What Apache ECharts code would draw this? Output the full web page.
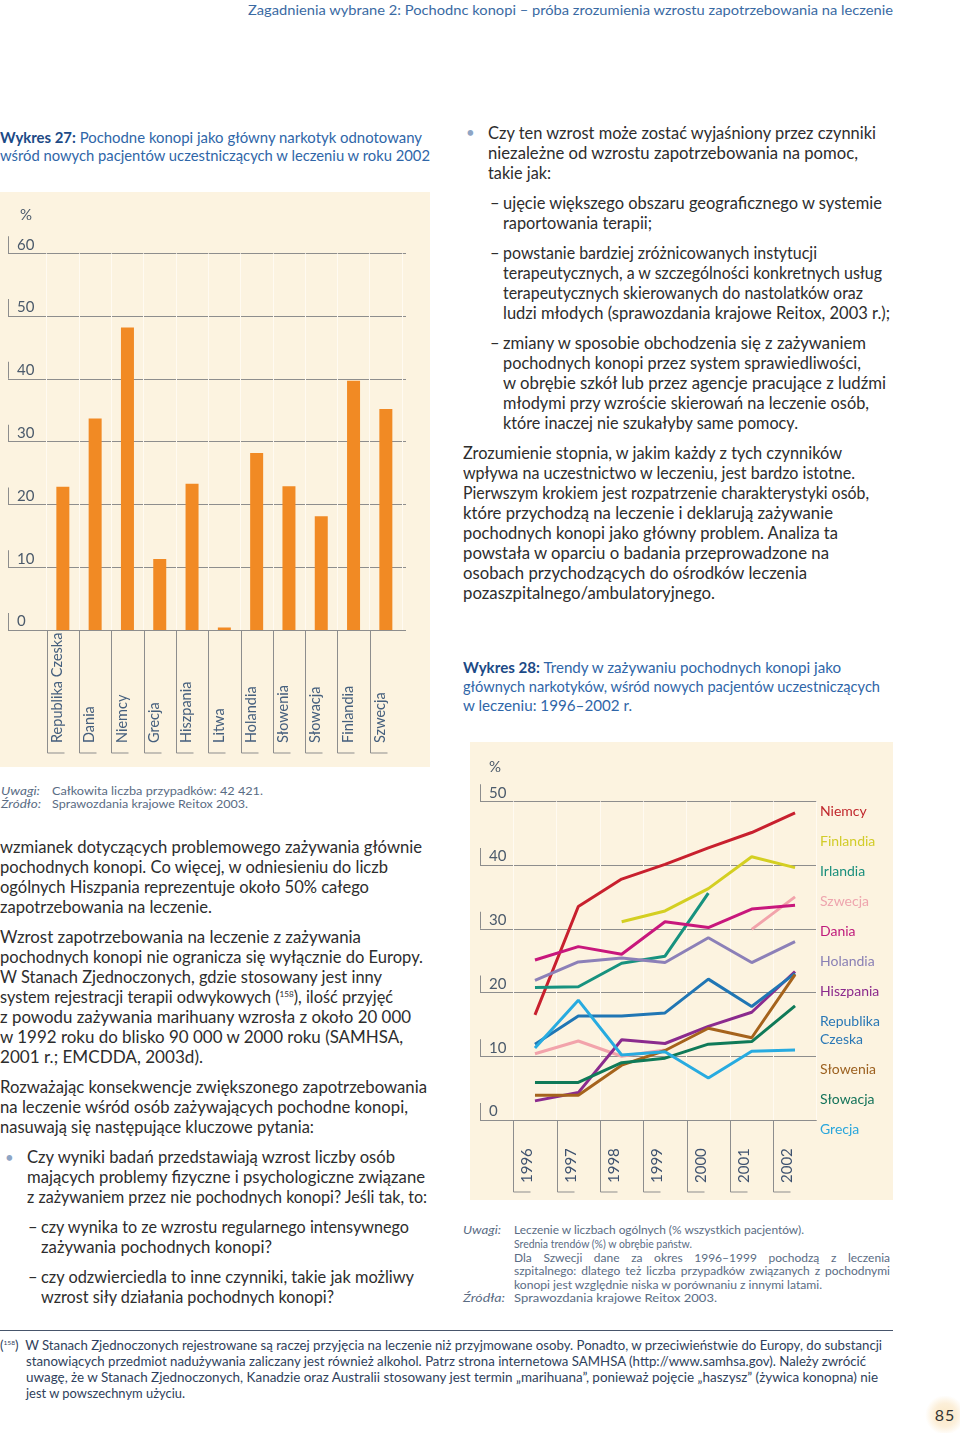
<!DOCTYPE html>
<html><head><meta charset="utf-8">
<script src="https://cdn.jsdelivr.net/npm/echarts/dist/echarts.min.js"></script>
<style>
html,body{margin:0;padding:0;background:#fff;}
body{width:960px;height:1433px;position:relative;overflow:hidden;font-family:Lato,"Noto Sans",sans-serif;}
.ln{position:absolute;white-space:nowrap;transform-origin:0 50%;}
.b{font-size:16.5px;line-height:20px;color:#2d2d2d;}
.t{font-size:15px;line-height:18px;color:#2f66a8;}
.t b{color:#1c4a86;font-weight:700;}
.n{font-size:12px;line-height:14px;color:#5a6c84;}
.n i{font-style:italic;}
.f{font-size:13px;line-height:16px;color:#2f3f5c;}
.h{font-size:14px;line-height:18px;color:#3a6aa3;}
sup{font-size:0.5em;vertical-align:0.7em;line-height:0;}
.bul{position:absolute;font-size:15px;line-height:20px;color:#8ea5c5;}
.dash{position:absolute;font-size:16.5px;line-height:20px;color:#2d2d2d;}
#c1{position:absolute;left:0;top:192px;width:430px;height:575px;}
#c2{position:absolute;left:470px;top:742px;width:423px;height:458px;}
#rule{position:absolute;left:0;top:1330px;width:893px;height:0;border-top:1.5px solid #47556b;}
#pg{position:absolute;left:923px;top:1396px;width:44px;height:38px;background:radial-gradient(circle at 50% 50%, #fbe8c6 0%, #fcefd9 40%, rgba(255,255,255,0) 68%);font-size:16px;line-height:38px;text-align:center;color:#333;letter-spacing:1px;}
</style>
</head><body>
<div id="c1"></div>
<div id="c2"></div>
<div id="rule"></div>
<div id="pg">85</div>
<script>
// ---------- Chart 27 data ----------
const countries27 = ['Republika Czeska','Dania','Niemcy','Grecja','Hiszpania','Litwa','Holandia','Słowenia','Słowacja','Finlandia','Szwecja'];
const share27 = [22.8, 33.7, 48.2, 11.3, 23.3, 0.4, 28.2, 22.9, 18.1, 39.7, 35.2];

// ---------- Chart 28 data ----------
const years28 = ['1996','1997','1998','1999','2000','2001','2002'];
const niemcy    = [16.5, 33.5, 37.8, 40.1, 42.7, 45.1, 48.2];
const finlandia = [null, null, 31.1, 32.8, 36.3, 41.3, 39.6];
const irlandia  = [20.8, 20.9, 24.6, 25.7, 35.6, null, null];
const szwecja   = [10.4, 12.4, 10.0, 11.0, null, 29.9, 35.0];
const dania     = [25.1, 27.2, 26.0, 31.1, 30.2, 33.1, 33.7];
const holandia  = [21.9, 24.8, 25.4, 24.7, 28.6, 24.7, 28.0];
const hiszpania = [3.0, 4.3, 12.6, 12.0, 14.7, 16.9, 23.3];
const czechy    = [11.9, 16.3, 16.3, 16.8, 22.1, 17.8, 23.0];
const slowenia  = [3.9, 3.9, 8.6, 10.9, 14.4, 12.9, 22.8];
const slowacja  = [5.9, 5.9, 9.0, 9.7, 11.9, 12.3, 17.9];
const grecja    = [11.3, 18.8, 10.2, 10.7, 6.6, 10.8, 11.0];

const names28 = ['Niemcy','Finlandia','Irlandia','Szwecja','Dania','Holandia','Hiszpania','Republika Czeska','Słowenia','Słowacja','Grecja'];
const values28 = [niemcy, finlandia, irlandia, szwecja, dania, holandia, hiszpania, czechy, slowenia, slowacja, grecja];
const colors28 = ['#c8202e','#d4cf22','#17927f','#f2a3ab','#c8177c','#8c80b8','#8b2b8e','#2076b4','#a5631c','#0f7a58','#28abe0'];
const legendColors28 = ['#c0272d','#d2cc2a','#1b8f7d','#eea5ae','#bf1b7c','#8a80b5','#8b2a8d','#2a78b6','#9c6120','#14735a','#2aa6dc'];

const yTicks27 = {min:0, max:60, step:10};
const yTicks28 = {min:0, max:50, step:10};

const FONT = 'Lato, "Noto Sans", sans-serif';
const GRID_C = '#8d8d8d';
const LABEL_C = '#4b5a6b';
const CAT_C = '#46607e';

function tickLabel(){
  return {
    inside:true, margin:0, align:'left', verticalAlign:'bottom',
    formatter: v => '{b|}{t|' + v + '}',
    rich:{
      b:{width:1, height:17, backgroundColor:GRID_C},
      t:{fontSize:15, color:LABEL_C, padding:[0,0,0,8], fontFamily:FONT, lineHeight:17, height:17}
    }
  };
}
function separator(len, foot){
  return function(params, api){
    const p = api.coord([api.value(0), 0]);
    const bw = api.size([1, 0])[0];
    const x = Math.round(p[0] - bw/2) + 0.5, y = p[1];
    return {type:'polyline', shape:{points:[[x,y],[x,y+len],[x+foot,y+len]]},
            style:{stroke:GRID_C, lineWidth:1, fill:null}, silent:true};
  };
}

// ---------- Chart 1 ----------
const c1 = echarts.init(document.getElementById('c1'));
c1.setOption({
  backgroundColor:'#fcf3e0',
  animation:false,
  grid:[{left:8, top:61.3, width:398, height:376.7},{left:46.7, top:61.3, width:355.3, height:376.7}],
  xAxis:[
    {gridIndex:0, type:'value', min:0, max:1, show:false},
    {gridIndex:1, type:'category', data:countries27,
     axisLine:{show:false}, axisTick:{show:false},
     splitLine:{show:true, lineStyle:{color:'#fffaf1', width:1}},
     axisLabel:{interval:0, rotate:90, align:'left', verticalAlign:'bottom', lineHeight:11, margin:113, fontSize:14.5, color:CAT_C, fontFamily:FONT}}
  ],
  yAxis:[
    {gridIndex:0, type:'value', min:yTicks27.min, max:yTicks27.max, interval:yTicks27.step,
     axisLine:{show:false}, axisTick:{show:false},
     splitLine:{lineStyle:{color:GRID_C, width:1}},
     axisLabel:tickLabel(),
     name:'%', nameLocation:'end', nameGap:38,
     nameTextStyle:{align:'left', verticalAlign:'middle', padding:[0,0,0,12], fontSize:15, color:LABEL_C, fontFamily:FONT}},
    {gridIndex:1, type:'value', min:yTicks27.min, max:yTicks27.max, interval:yTicks27.step, show:false}
  ],
  series:[
    {type:'bar', xAxisIndex:1, yAxisIndex:1, data:share27, barWidth:13, itemStyle:{color:'#f18a24'}, silent:true},
    {type:'custom', xAxisIndex:1, yAxisIndex:1, clip:false, silent:true,
     data:countries27.map((c,i)=>[i,0]), encode:{x:0,y:1}, renderItem:separator(123,17)}
  ]
});

// ---------- Chart 2 ----------
const c2 = echarts.init(document.getElementById('c2'));
c2.setOption({
  backgroundColor:'#fcf3e0',
  animation:false,
  grid:[{left:10, top:59.3, width:336.7, height:318.7},{left:43.3, top:59.3, width:303.4, height:318.7}],
  legend:{
    orient:'vertical', left:339, top:55, icon:'none', itemWidth:1, itemHeight:1, itemGap:12,
    selectedMode:false,
    formatter: n => n === 'Republika Czeska' ? 'Republika\nCzeska' : n,
    textStyle:{fontSize:14, lineHeight:18, fontFamily:FONT, padding:0},
    data: names28.map((n,i)=>({name:n, textStyle:{color:legendColors28[i]}}))
  },
  xAxis:[
    {gridIndex:0, type:'value', min:0, max:1, show:false},
    {gridIndex:1, type:'category', data:years28, boundaryGap:true,
     axisLine:{show:false}, axisTick:{show:false},
     splitLine:{show:true, lineStyle:{color:'#fffaf1', width:1}},
     axisLabel:{interval:0, rotate:90, align:'left', verticalAlign:'bottom', margin:63, fontSize:15, color:'#3e526f', fontFamily:FONT}}
  ],
  yAxis:[
    {gridIndex:0, type:'value', min:yTicks28.min, max:yTicks28.max, interval:yTicks28.step,
     axisLine:{show:false}, axisTick:{show:false},
     splitLine:{lineStyle:{color:GRID_C, width:1}},
     axisLabel:tickLabel(),
     name:'%', nameLocation:'end', nameGap:34.3,
     nameTextStyle:{align:'left', verticalAlign:'middle', padding:[0,0,0,9], fontSize:15, color:LABEL_C, fontFamily:FONT}},
    {gridIndex:1, type:'value', min:yTicks28.min, max:yTicks28.max, interval:yTicks28.step, show:false}
  ],
  series: names28.map((n,i)=>({
    name:n, type:'line', xAxisIndex:1, yAxisIndex:1, data:values28[i],
    symbol:'none', connectNulls:false, silent:true,
    lineStyle:{width:3, color:colors28[i]}, itemStyle:{color:colors28[i]}
  })).concat([{type:'custom', xAxisIndex:1, yAxisIndex:1, clip:false, silent:true,
     data:years28.map((c,i)=>[i,0]), encode:{x:0,y:1}, renderItem:separator(72,17)}])
});

// ---------- page text ----------
// [x, yCenter, rightEdge, html, class, justify]
const lines = [
 [248, 11, 893, 'Zagadnienia wybrane 2: Pochodnc konopi – próba zrozumienia wzrostu zapotrzebowania na leczenie', 'h'],
 [0, 138, 422, '<b>Wykres 27:</b> Pochodne konopi jako główny narkotyk odnotowany', 't'],
 [0, 156, 430, 'wśród nowych pacjentów uczestniczących w leczeniu w roku 2002', 't'],
 [488, 134, 876, 'Czy ten wzrost może zostać wyjaśniony przez czynniki', 'b'],
 [488, 154, 858, 'niezależne od wzrostu zapotrzebowania na pomoc,', 'b'],
 [488, 174, 551, 'takie jak:', 'b'],
 [503, 204, 882, 'ujęcie większego obszaru geograficznego w systemie', 'b'],
 [503, 224, 652, 'raportowania terapii;', 'b'],
 [503, 254, 817, 'powstanie bardziej zróżnicowanych instytucji', 'b'],
 [503, 274, 882, 'terapeutycznych, a w szczególności konkretnych usług', 'b'],
 [503, 294, 863, 'terapeutycznych skierowanych do nastolatków oraz', 'b'],
 [503, 314, 890, 'ludzi młodych (sprawozdania krajowe Reitox, 2003 r.);', 'b'],
 [503, 344, 866, 'zmiany w sposobie obchodzenia się z zażywaniem', 'b'],
 [503, 364, 861, 'pochodnych konopi przez system sprawiedliwości,', 'b'],
 [503, 384, 886, 'w obrębie szkół lub przez agencje pracujące z ludźmi', 'b'],
 [503, 404, 869, 'młodymi przy wzroście skierowań na leczenie osób,', 'b'],
 [503, 424, 798, 'które inaczej nie szukałyby same pomocy.', 'b'],
 [463, 454, 842, 'Zrozumienie stopnia, w jakim każdy z tych czynników', 'b'],
 [463, 474, 855, 'wpływa na uczestnictwo w leczeniu, jest bardzo istotne.', 'b'],
 [463, 494, 869, 'Pierwszym krokiem jest rozpatrzenie charakterystyki osób,', 'b'],
 [463, 514, 833, 'które przychodzą na leczenie i deklarują zażywanie', 'b'],
 [463, 534, 838, 'pochodnych konopi jako główny problem. Analiza ta', 'b'],
 [463, 554, 829, 'powstała w oparciu o badania przeprowadzone na', 'b'],
 [463, 574, 807, 'osobach przychodzących do ośrodków leczenia', 'b'],
 [463, 594, 715, 'pozaszpitalnego/ambulatoryjnego.', 'b'],
 [463, 668, 841, '<b>Wykres 28:</b> Trendy w zażywaniu pochodnych konopi jako', 't'],
 [463, 687, 880, 'głównych narkotyków, wśród nowych pacjentów uczestniczących', 't'],
 [463, 706, 632, 'w leczeniu: 1996–2002 r.', 't'],
 [1, 792, 40, '<i>Uwagi:</i>', 'n'],
 [52, 792, 263, 'Całkowita liczba przypadków: 42 421.', 'n'],
 [1, 805, 41, '<i>Źródło:</i>', 'n'],
 [52, 805, 248, 'Sprawozdania krajowe Reitox 2003.', 'n'],
 [0, 848, 422, 'wzmianek dotyczących problemowego zażywania głównie', 'b'],
 [0, 868, 388, 'pochodnych konopi. Co więcej, w odniesieniu do liczb', 'b'],
 [0, 888, 369, 'ogólnych Hiszpania reprezentuje około 50% całego', 'b'],
 [0, 908, 212, 'zapotrzebowania na leczenie.', 'b'],
 [0, 938, 361, 'Wzrost zapotrzebowania na leczenie z zażywania', 'b'],
 [0, 958, 423, 'pochodnych konopi nie ogranicza się wyłącznie do Europy.', 'b'],
 [0, 978, 382, 'W Stanach Zjednoczonych, gdzie stosowany jest inny', 'b'],
 [0, 998, 393, 'system rejestracji terapii odwykowych (<sup>158</sup>), ilość przyjęć', 'b'],
 [0, 1018, 411, 'z powodu zażywania marihuany wzrosła z około 20 000', 'b'],
 [0, 1038, 403, 'w 1992 roku do blisko 90 000 w 2000 roku (SAMHSA,', 'b'],
 [0, 1058, 203, '2001 r.; EMCDDA, 2003d).', 'b'],
 [0, 1088, 427, 'Rozważając konsekwencje zwiększonego zapotrzebowania', 'b'],
 [0, 1108, 408, 'na leczenie wśród osób zażywających pochodne konopi,', 'b'],
 [0, 1128, 314, 'nasuwają się następujące kluczowe pytania:', 'b'],
 [27, 1158, 395, 'Czy wyniki badań przedstawiają wzrost liczby osób', 'b'],
 [27, 1178, 425, 'mających problemy fizyczne i psychologiczne związane', 'b'],
 [27, 1198, 427, 'z zażywaniem przez nie pochodnych konopi? Jeśli tak, to:', 'b'],
 [41, 1228, 409, 'czy wynika to ze wzrostu regularnego intensywnego', 'b'],
 [41, 1248, 272, 'zażywania pochodnych konopi?', 'b'],
 [41, 1278, 414, 'czy odzwierciedla to inne czynniki, takie jak możliwy', 'b'],
 [41, 1298, 334, 'wzrost siły działania pochodnych konopi?', 'b'],
 [463, 1231, 501, '<i>Uwagi:</i>', 'n'],
 [514, 1231, 804, 'Leczenie w liczbach ogólnych (% wszystkich pacjentów).', 'n'],
 [514, 1245, 692, 'Srednia trendów (%) w obrębie państw.', 'n'],
 [514, 1258.5, 890, 'Dla Szwecji dane za okres 1996–1999 pochodzą z leczenia', 'n', true],
 [514, 1272, 890, 'szpitalnego: dlatego też liczba przypadków związanych z pochodnymi', 'n', true],
 [514, 1285.5, 822, 'konopi jest względnie niska w porównaniu z innymi latami.', 'n'],
 [463, 1298.5, 505, '<i>Źródła:</i>', 'n'],
 [514, 1298.5, 717, 'Sprawozdania krajowe Reitox 2003.', 'n'],
 [0, 1346, 882, '(<sup>158</sup>)&nbsp;&nbsp;W Stanach Zjednoczonych rejestrowane są raczej przyjęcia na leczenie niż przyjmowane osoby. Ponadto, w przeciwieństwie do Europy, do substancji', 'f'],
 [26, 1362, 866, 'stanowiących przedmiot nadużywania zaliczany jest również alkohol. Patrz strona internetowa SAMHSA (http://www.samhsa.gov). Należy zwrócić', 'f'],
 [26, 1378, 878, 'uwagę, że w Stanach Zjednoczonych, Kanadzie oraz Australii stosowany jest termin „marihuana”, ponieważ pojęcie „haszysz” (żywica konopna) nie', 'f'],
 [26, 1394, 185, 'jest w powszechnym użyciu.', 'f']
];
const topOff = {b:11.5, t:10, n:8, f:9, h:10};
const marks = [ ['bul', 466, 133, '•'], ['bul', 5, 1158, '•'],
  ['dash', 490, 204, '–'], ['dash', 490, 254, '–'], ['dash', 490, 344, '–'],
  ['dash', 28, 1228, '–'], ['dash', 28, 1278, '–'] ];
const els = [];
lines.forEach(s => {
  const d = document.createElement('div');
  d.className = 'ln ' + s[4];
  d.innerHTML = s[3];
  d.style.left = s[0] + 'px';
  d.style.top = (s[1] - topOff[s[4]]) + 'px';
  document.body.appendChild(d);
  els.push([d, s]);
});
marks.forEach(m => {
  const d = document.createElement('div');
  d.className = m[0]; d.textContent = m[3];
  d.style.left = m[1] + 'px'; d.style.top = (m[2] - 11) + 'px';
  document.body.appendChild(d);
});
function fit(){
  els.forEach(([d, s]) => {
    const target = s[2] - s[0];
    d.style.transform = ''; d.style.wordSpacing = '';
    const w = d.getBoundingClientRect().width;
    if (!w) return;
    if (s[5]) {
      const spaces = (d.textContent.match(/ /g) || []).length;
      if (spaces) d.style.wordSpacing = ((target - w) / spaces) + 'px';
    } else {
      d.style.transform = 'scaleX(' + (target / w).toFixed(4) + ')';
    }
  });
}
fit();
if (document.fonts && document.fonts.ready) document.fonts.ready.then(fit);
</script>
</body></html>
